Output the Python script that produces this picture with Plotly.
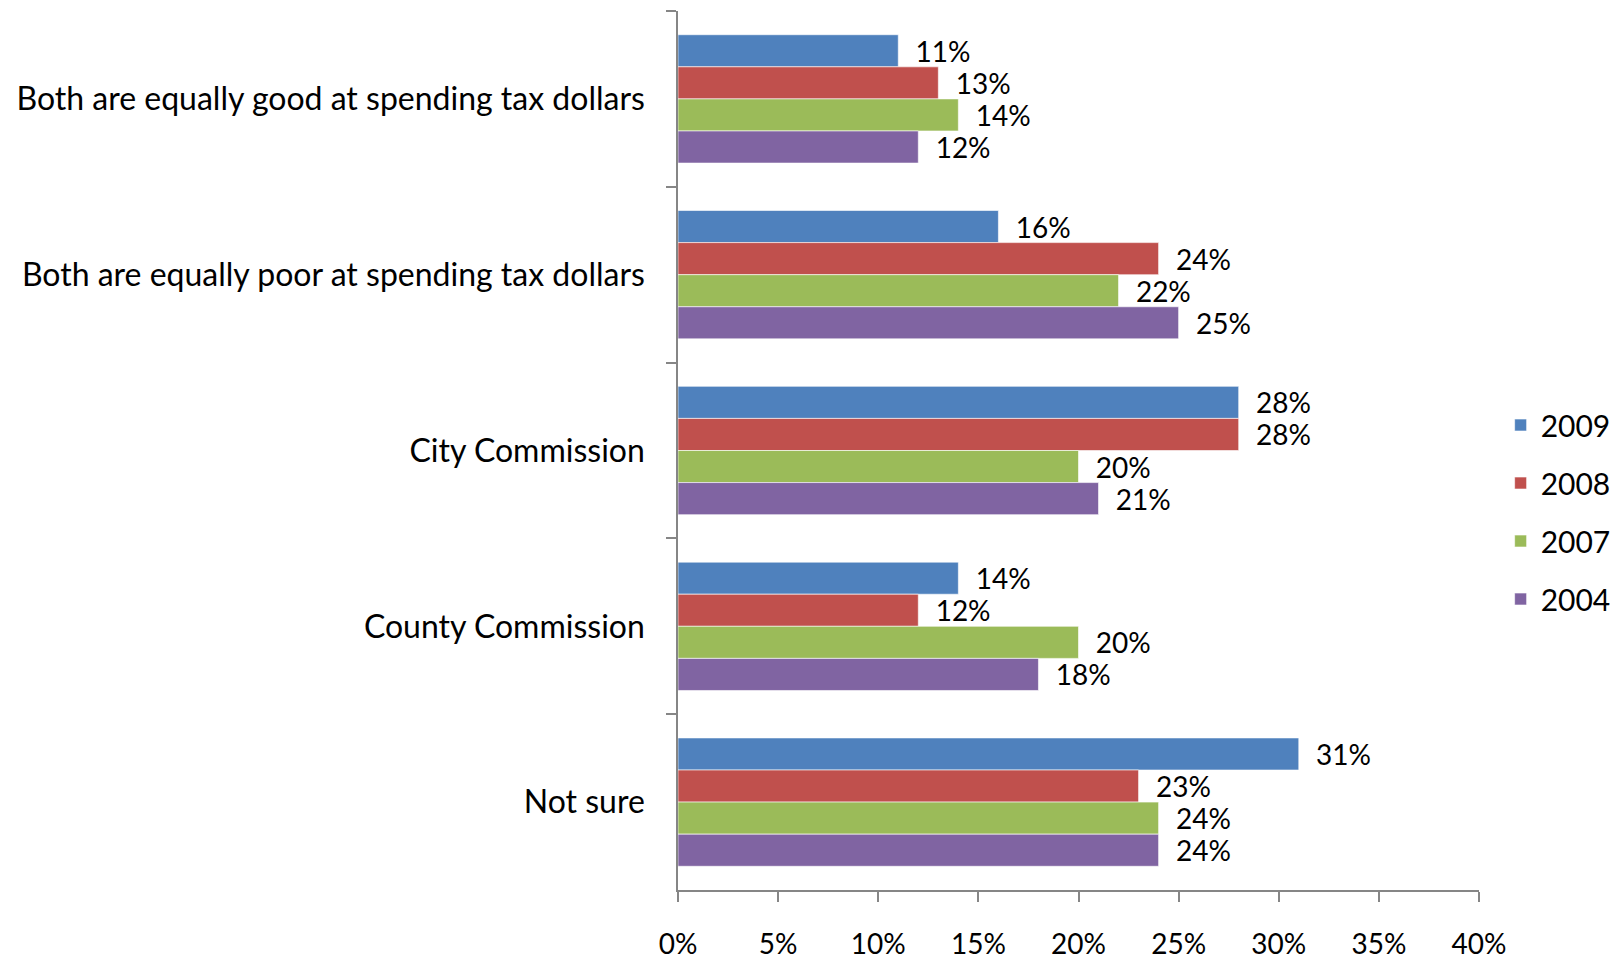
import plotly.graph_objects as go

categories = [
    "Both are equally good at spending tax dollars",
    "Both are equally poor at spending tax dollars",
    "City Commission",
    "County Commission",
    "Not sure",
]
years = ["2009", "2008", "2007", "2004"]
values_2009 = [11, 16, 28, 14, 31]
values_2008 = [13, 24, 28, 12, 23]
values_2007 = [14, 22, 20, 20, 24]
values_2004 = [12, 25, 21, 18, 24]
series = [values_2009, values_2008, values_2007, values_2004]
colors = ["#4F81BD", "#C0504D", "#9BBB59", "#8064A2"]
x_ticks = [0, 5, 10, 15, 20, 25, 30, 35, 40]
x_tick_labels = [f"{t}%" for t in x_ticks]

FONT = "Lato"

fig = go.Figure()
for name, vals, col in zip(years, series, colors):
    fig.add_trace(go.Bar(
        y=categories,
        x=vals,
        name=name,
        orientation="h",
        marker=dict(color=col, line=dict(color="rgba(255,255,255,0.6)", width=1)),
        text=[f"{v}%" for v in vals],
        texttemplate="  %{text}",
        textposition="outside",
        constraintext="none",
        cliponaxis=False,
        textfont=dict(family=FONT, size=28, color="#000000"),
        legendgroup=name,
    ))

fig.update_layout(
    width=1622,
    height=962,
    barmode="group",
    bargap=0.27,
    bargroupgap=0,
    plot_bgcolor="white",
    paper_bgcolor="white",
    font=dict(family=FONT, size=30, color="#000000"),
    margin=dict(l=678, r=143, t=11, b=72, autoexpand=False),
    showlegend=True,
    legend=dict(
        x=1.027, xanchor="left",
        y=0.43, yanchor="middle",
        font=dict(family=FONT, size=30, color="#000000"),
        tracegroupgap=16,
        traceorder="grouped",
        itemwidth=30,
        bgcolor="rgba(0,0,0,0)",
    ),
)

fig.update_xaxes(
    range=[0, 40],
    tickvals=x_ticks,
    ticktext=x_tick_labels,
    automargin=False,
    showgrid=False,
    zeroline=False,
    showline=True,
    linecolor="#868686",
    linewidth=1.5,
    ticks="outside",
    ticklen=10,
    tickcolor="#868686",
    tickwidth=1.5,
    ticklabelstandoff=19,
    tickfont=dict(family=FONT, size=28, color="#000000"),
)

fig.update_yaxes(
    autorange="reversed",
    automargin=False,
    showgrid=False,
    zeroline=False,
    showline=True,
    linecolor="#868686",
    linewidth=1.5,
    ticks="outside",
    tickson="boundaries",
    ticklen=10,
    tickcolor="#868686",
    tickwidth=1.5,
    ticklabelstandoff=25,
    tickfont=dict(family=FONT, size=32, color="#000000"),
)

fig.write_html(
    "out.html",
    config={"displayModeBar": False},
    post_script="document.body.style.margin='0px';document.body.style.overflow='hidden';",
)
